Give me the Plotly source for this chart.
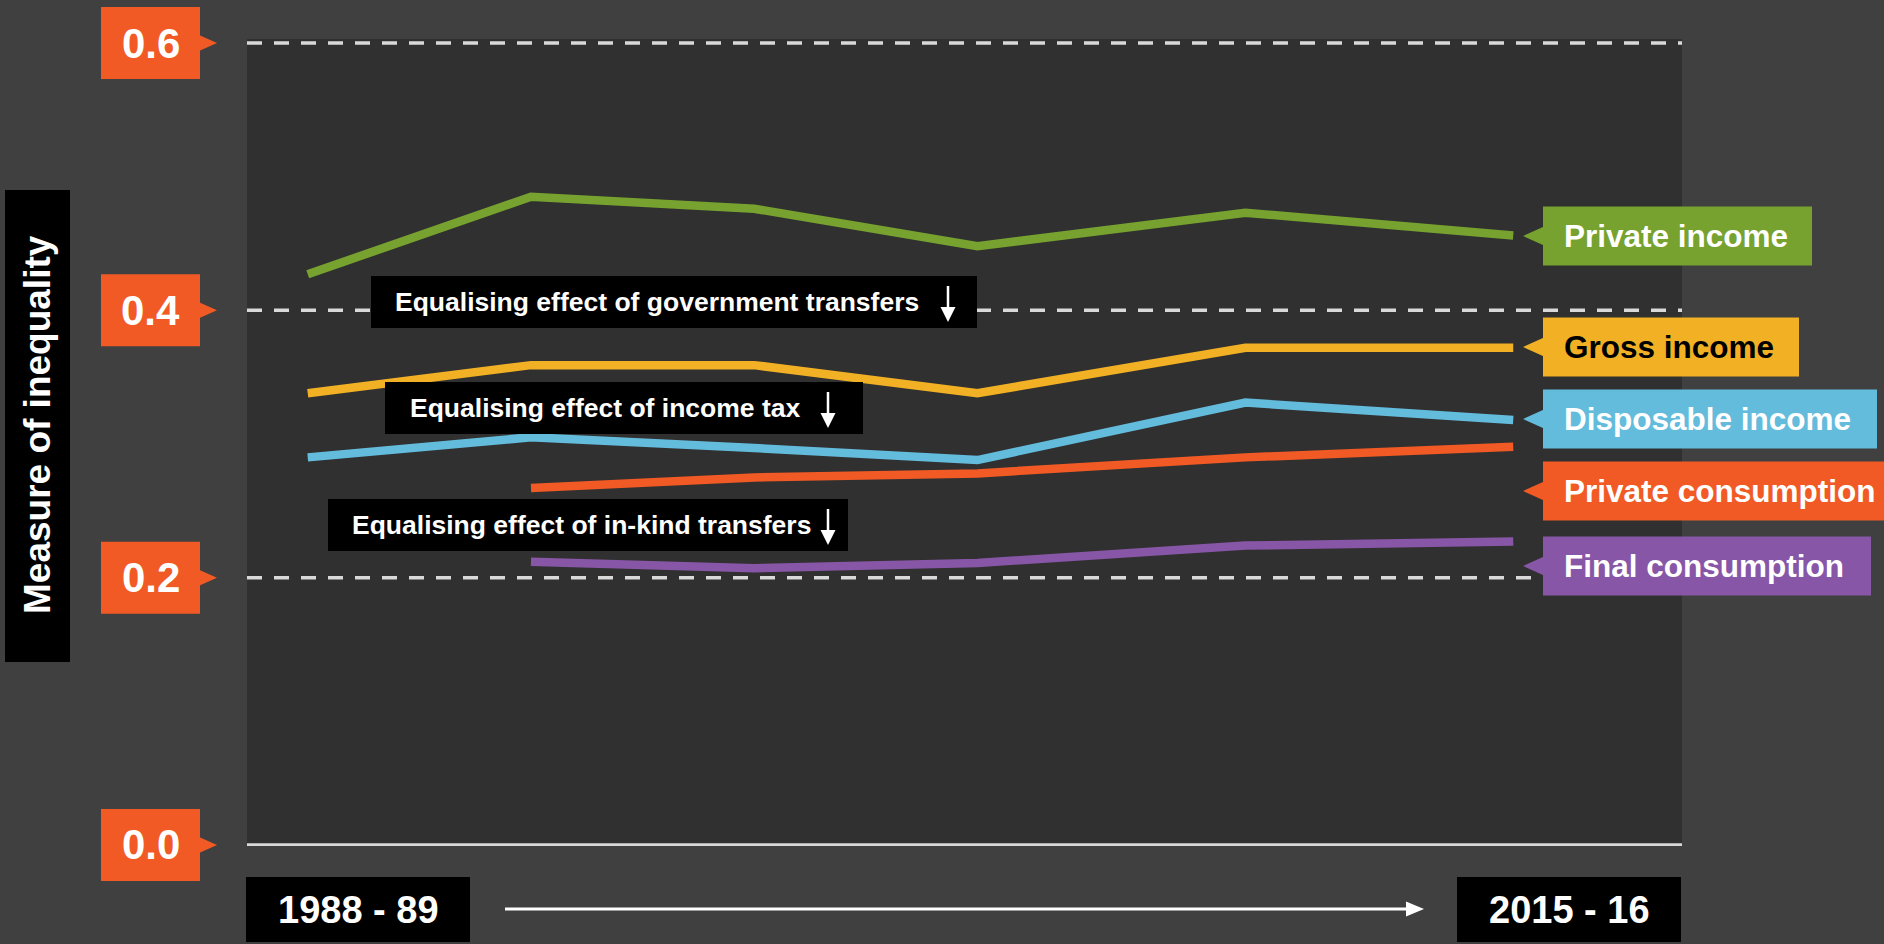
import plotly.graph_objects as go

# ---------------- data ----------------
surveys = ["1988-89", "1993-94", "1998-99", "2003-04", "2009-10", "2015-16"]
survey_start_year = [1988, 1993, 1998, 2003, 2009, 2015]

private_income = [0.427, 0.485, 0.476, 0.448, 0.473, 0.456]
gross_income = [0.338, 0.359, 0.359, 0.338, 0.372, 0.372]
disposable_income = [0.290, 0.305, 0.297, 0.288, 0.331, 0.318]
private_consumption = [None, 0.267, 0.275, 0.278, 0.290, 0.298]
final_consumption = [None, 0.212, 0.207, 0.211, 0.224, 0.227]

series_names = ["Private income", "Gross income", "Disposable income",
                "Private consumption", "Final consumption"]
series_values = [private_income, gross_income, disposable_income,
                 private_consumption, final_consumption]
series_colors = ["#77A22F", "#F2B124", "#63BCDC", "#F15A24", "#8856A6"]
label_text_colors = ["#FFFFFF", "#000000", "#FFFFFF", "#FFFFFF", "#FFFFFF"]

tick_values = [0.0, 0.2, 0.4, 0.6]
tick_labels = ["0.0", "0.2", "0.4", "0.6"]
y_title = "Measure of inequality"
x_end_labels = ["1988 - 89", "2015 - 16"]
effect_labels = ["Equalising effect of government transfers",
                 "Equalising effect of income tax",
                 "Equalising effect of in-kind transfers"]

# ---------------- layout geometry (pixels) ----------------
W, H = 1884, 944
L, R, T, B = 247, 1682, 39, 846
PW, PH = R - L, B - T
Y_RANGE = [-0.00075, 0.603]
X_RANGE = [1986.64, 2018.78]
FONT = "Liberation Sans, Arial, sans-serif"
TICK_BOX = "#F15A24"
GRID = "#D9D9D9"


def xp(px):
    return (px - L) / PW


def yp(py):
    return (B - py) / PH


def y_frac(v):
    return (v - Y_RANGE[0]) / (Y_RANGE[1] - Y_RANGE[0])


fig = go.Figure()
for name, vals, col in zip(series_names, series_values, series_colors):
    fig.add_trace(go.Scatter(x=survey_start_year, y=vals, mode="lines", name=name,
                             line=dict(color=col, width=8.5), hoverinfo="skip",
                             connectgaps=False))

shapes = []
annotations = []

# dashed reference lines and zero line
for v in tick_values:
    if v == 0:
        shapes.append(dict(type="line", xref="paper", yref="y", x0=0, x1=1, y0=v, y1=v,
                           line=dict(color=GRID, width=3.5), layer="below"))
    else:
        shapes.append(dict(type="line", xref="paper", yref="y", x0=0, x1=1, y0=v, y1=v,
                           line=dict(color=GRID, width=3.5, dash="15px,12px"), layer="below"))

# orange tick boxes with pointer
for v, lab in zip(tick_values, tick_labels):
    yf = y_frac(v)
    shapes.append(dict(type="rect", xref="paper", yref="paper", ysizemode="pixel", yanchor=yf,
                       x0=xp(101), x1=xp(200), y0=-36, y1=36,
                       fillcolor=TICK_BOX, line=dict(width=0)))
    shapes.append(dict(type="path", xref="paper", yref="paper", ysizemode="pixel", yanchor=yf,
                       path=f"M {xp(199)},-8 L {xp(217)},0 L {xp(199)},8 Z",
                       fillcolor=TICK_BOX, line=dict(width=0)))
    annotations.append(dict(xref="paper", yref="paper", x=xp(150.5), y=yf, text=f"<b>{lab}</b>",
                            showarrow=False, xanchor="center", yanchor="middle",
                            font=dict(family=FONT, size=42, color="white")))

# y title box
shapes.append(dict(type="rect", xref="paper", yref="paper", x0=xp(5), x1=xp(70),
                   y0=yp(662), y1=yp(190), fillcolor="black", line=dict(width=0)))
annotations.append(dict(xref="paper", yref="paper", x=xp(38), y=yp(425),
                        text=f"<b>{y_title}</b>", textangle=-90, showarrow=False,
                        xanchor="center", yanchor="middle",
                        font=dict(family=FONT, size=37, color="white")))

# right series labels
label_centers = [236, 347, 419, 491, 566]
label_right = [1812, 1799, 1877, 1884, 1871]
for name, col, tcol, cy, rx in zip(series_names, series_colors, label_text_colors,
                                   label_centers, label_right):
    shapes.append(dict(type="rect", xref="paper", yref="paper", x0=xp(1543), x1=xp(rx),
                       y0=yp(cy + 29.5), y1=yp(cy - 29.5), fillcolor=col, line=dict(width=0)))
    shapes.append(dict(type="path", xref="paper", yref="paper",
                       path=f"M {xp(1544)},{yp(cy - 9.5)} L {xp(1523)},{yp(cy)} "
                            f"L {xp(1544)},{yp(cy + 9.5)} Z",
                       fillcolor=col, line=dict(width=0)))
    annotations.append(dict(xref="paper", yref="paper", x=xp(1562), y=yp(cy),
                            text=f"<b>{name}</b>", showarrow=False, xanchor="left",
                            yanchor="middle", font=dict(family=FONT, size=31.5, color=tcol)))

# black effect boxes with down arrows
effect_boxes = [(371, 977, 276, 328, 393, 948),
                (385, 863, 382, 434, 408, 828),
                (328, 848, 499, 551, 350, 828)]
for lab, (x0, x1, y0, y1, tx, ax) in zip(effect_labels, effect_boxes):
    shapes.append(dict(type="rect", xref="paper", yref="paper", x0=xp(x0), x1=xp(x1),
                       y0=yp(y1), y1=yp(y0), fillcolor="black", line=dict(width=0)))
    annotations.append(dict(xref="paper", yref="paper", x=xp(tx), y=yp((y0 + y1) / 2),
                            text=f"<b>{lab}</b>", showarrow=False, xanchor="left",
                            yanchor="middle", font=dict(family=FONT, size=26.5, color="white")))
    top, tip = y0 + 10, y1 - 6
    shapes.append(dict(type="line", xref="paper", yref="paper", x0=xp(ax), x1=xp(ax),
                       y0=yp(top), y1=yp(tip - 12), line=dict(color="white", width=2.5)))
    shapes.append(dict(type="path", xref="paper", yref="paper",
                       path=f"M {xp(ax - 7.5)},{yp(tip - 15)} L {xp(ax)},{yp(tip)} "
                            f"L {xp(ax + 7.5)},{yp(tip - 15)} Z",
                       fillcolor="white", line=dict(width=0)))

# bottom period boxes and timeline arrow
for lab, (x0, x1) in zip(x_end_labels, [(246, 470), (1457, 1681)]):
    shapes.append(dict(type="rect", xref="paper", yref="paper", x0=xp(x0), x1=xp(x1),
                       y0=yp(942), y1=yp(877), fillcolor="black", line=dict(width=0)))
    annotations.append(dict(xref="paper", yref="paper", x=xp((x0 + x1) / 2), y=yp(909.5),
                            text=f"<b>{lab}</b>", showarrow=False, xanchor="center",
                            yanchor="middle", font=dict(family=FONT, size=38, color="white")))
shapes.append(dict(type="line", xref="paper", yref="paper", x0=xp(505), x1=xp(1408),
                   y0=yp(909), y1=yp(909), line=dict(color="white", width=3)))
shapes.append(dict(type="path", xref="paper", yref="paper",
                   path=f"M {xp(1406)},{yp(901.5)} L {xp(1424)},{yp(909)} "
                        f"L {xp(1406)},{yp(916.5)} Z",
                   fillcolor="white", line=dict(width=0)))

fig.update_layout(
    width=W, height=H,
    margin=dict(l=L, r=W - R, t=T, b=H - B, pad=0),
    paper_bgcolor="#404040", plot_bgcolor="#303030",
    showlegend=False,
    xaxis=dict(range=X_RANGE, showgrid=False, zeroline=False,
               showticklabels=False, ticks="", fixedrange=True),
    yaxis=dict(range=Y_RANGE, showgrid=False, zeroline=False,
               showticklabels=False, ticks="", fixedrange=True),
    shapes=shapes, annotations=annotations,
    font=dict(family=FONT),
)

fig.write_html("out.html", config={"displayModeBar": False},
               post_script="document.body.style.margin='0';document.body.style.overflow='hidden';")
